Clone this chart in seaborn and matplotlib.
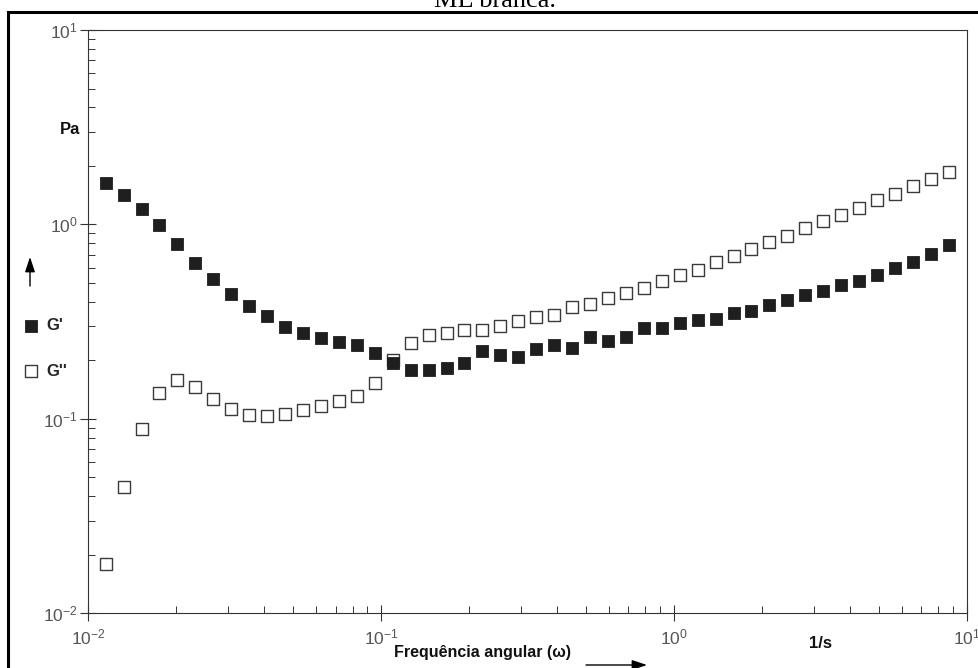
import numpy as np
import pandas as pd
import matplotlib
matplotlib.use("Agg")
import matplotlib.pyplot as plt
import matplotlib.transforms as mtransforms
from matplotlib.patches import Rectangle
import seaborn as sns

# Angular frequency sweep (1/s)
freq = [0.01150, 0.01323, 0.01524, 0.01754, 0.02020, 0.02326, 0.02678, 0.03084,
        0.03551, 0.04089, 0.04709, 0.05422, 0.06244, 0.07190, 0.08279, 0.09530,
        0.1097, 0.1264, 0.1455, 0.1675, 0.1929, 0.2221, 0.2557, 0.2944,
        0.3391, 0.3905, 0.4496, 0.5176, 0.5960, 0.6863, 0.7902, 0.9097,
        1.047, 1.206, 1.389, 1.599, 1.841, 2.121, 2.442, 2.811,
        3.237, 3.727, 4.292, 4.941, 5.690, 6.552, 7.543, 8.686]

# Storage modulus G' (Pa)
g_storage = [1.625, 1.409, 1.194, 0.992, 0.792, 0.636, 0.526, 0.440,
             0.380, 0.338, 0.2954, 0.2752, 0.2616, 0.2493, 0.2387, 0.2190,
             0.1929, 0.1776, 0.1776, 0.1818, 0.1945, 0.2223, 0.2128, 0.2088,
             0.2278, 0.2387, 0.2312, 0.2624, 0.2502, 0.2646, 0.2919, 0.2943,
             0.3097, 0.3221, 0.3275, 0.3516, 0.3601, 0.3834, 0.4101, 0.4315,
             0.4541, 0.4898, 0.5111, 0.5468, 0.5937, 0.6431, 0.7067, 0.7826]

# Loss modulus G'' (Pa)
g_loss = [0.01800, 0.04481, 0.08863, 0.1357, 0.1590, 0.1457, 0.1260, 0.1123,
          0.1051, 0.1034, 0.1063, 0.1110, 0.1159, 0.1230, 0.1305, 0.1535,
          0.1999, 0.2444, 0.2688, 0.2774, 0.2851, 0.2851, 0.2989, 0.3198,
          0.3325, 0.3404, 0.3775, 0.3879, 0.4179, 0.4455, 0.4727, 0.5111,
          0.5487, 0.5847, 0.6401, 0.6872, 0.7500, 0.8111, 0.8705, 0.9537,
          1.036, 1.116, 1.213, 1.333, 1.438, 1.568, 1.704, 1.857]

series_labels = ["G'", "G''"]
title_text = "ML branca."
x_label = "Frequência angular (\u03c9)"
x_unit = "1/s"
y_unit = "Pa"

sns.set_style("white")
plt.rcParams["font.family"] = ["Liberation Sans", "DejaVu Sans"]
plt.rcParams["mathtext.fontset"] = "custom"
plt.rcParams["mathtext.rm"] = "Liberation Sans"
plt.rcParams["mathtext.it"] = "Liberation Sans:italic"
plt.rcParams["mathtext.bf"] = "Liberation Sans:bold"
plt.rcParams["axes.unicode_minus"] = False

W, H = 979, 668
fig = plt.figure(figsize=(W / 100, H / 100), dpi=100)
fig.patch.set_facecolor("white")
ax = fig.add_axes([88 / W, 1 - 613.3 / H, (966.7 - 88) / W, (613.3 - 30) / H])

df = pd.DataFrame({"freq": freq, "G1": g_storage, "G2": g_loss})

sns.scatterplot(data=df, x="freq", y="G1", marker="s", s=74,
                color="#1f1f1f", edgecolor="#1f1f1f", linewidth=0.6,
                label=series_labels[0], ax=ax, zorder=3)
sns.scatterplot(data=df, x="freq", y="G2", marker="s", s=72,
                facecolor="white", edgecolor="#3a3a3a", linewidth=1.0,
                label=series_labels[1], ax=ax, zorder=2)

ax.set_xscale("log")
ax.set_yscale("log")
ax.set_xlim(0.01, 10)
ax.set_ylim(0.01, 10)
ax.set_xlabel("")
ax.set_ylabel("")

for sp in ax.spines.values():
    sp.set_visible(True)
    sp.set_color("#333333")
    sp.set_linewidth(0.8)

ax.tick_params(which="major", direction="inout", length=12, width=0.8,
               color="#333333", labelcolor="#555555", labelsize=12.5,
               bottom=True, left=True, top=False, right=False)
ax.tick_params(axis="y", which="major", pad=1.5)
ax.tick_params(axis="x", which="major", pad=4)
ax.tick_params(which="minor", direction="in", length=5, width=0.7,
               color="#333333", bottom=True, left=True, top=False, right=False)
ax.yaxis.set_minor_locator(matplotlib.ticker.LogLocator(base=10, subs=np.arange(2, 10)))
ax.xaxis.set_minor_locator(matplotlib.ticker.LogLocator(base=10, subs=np.arange(2, 10)))
ax.xaxis.set_minor_formatter(matplotlib.ticker.NullFormatter())
ax.yaxis.set_minor_formatter(matplotlib.ticker.NullFormatter())

# Keep the rightmost decade label inside the canvas
fig.canvas.draw()
xlabels = ax.get_xticklabels()
xlabels[-1].set_horizontalalignment("right")
xlabels[-1].set_transform(xlabels[-1].get_transform()
                          + mtransforms.ScaledTranslation(9 / 100, 0, fig.dpi_scale_trans))

# Series key on the left margin
handles, labels = ax.get_legend_handles_labels()
ax.get_legend().remove()
fig.legend(handles, labels, loc="upper left",
           bbox_to_anchor=(23 / W, 1 - 318 / H), bbox_transform=fig.transFigure,
           frameon=False, borderpad=0, borderaxespad=0, handlelength=1.0,
           handletextpad=0.4, labelspacing=1.85,
           prop={"weight": "bold", "size": 12})

# Unit labels and direction arrows
fig.text(70 / W, 1 - 130 / H, y_unit, ha="center", va="center",
         fontsize=12, fontweight="bold", color="#111111")
fig.text(483 / W, 1 - 652 / H, x_label, ha="center", va="center",
         fontsize=11.5, fontweight="bold", color="#111111")
fig.text(821 / W, 1 - 643 / H, x_unit, ha="center", va="center",
         fontsize=12, fontweight="bold", color="#111111")

arrow_style = dict(arrowstyle="-|>,head_length=0.9,head_width=0.3",
                   color="black", lw=1.0, shrinkA=0, shrinkB=0)
ax.annotate("", xy=(30, H - 257), xytext=(30, H - 286),
            xycoords="figure pixels", textcoords="figure pixels",
            arrowprops=arrow_style, annotation_clip=False)
ax.annotate("", xy=(647, H - 665), xytext=(586, H - 665),
            xycoords="figure pixels", textcoords="figure pixels",
            arrowprops=arrow_style, annotation_clip=False)

# Caption and outer frame
fig.text(495 / W, 1 - 7 / H, title_text, ha="center", va="baseline",
         fontsize=19, family=["Liberation Serif", "DejaVu Serif"], color="black")
frame = Rectangle((8.5 / W, -0.05), 1.1, (H - 11.5) / H + 0.05,
                  transform=fig.transFigure, fill=False, edgecolor="black",
                  linewidth=2.2, clip_on=False)
fig.patches.append(frame)

fig.savefig("out.png", dpi=100, facecolor="white")
